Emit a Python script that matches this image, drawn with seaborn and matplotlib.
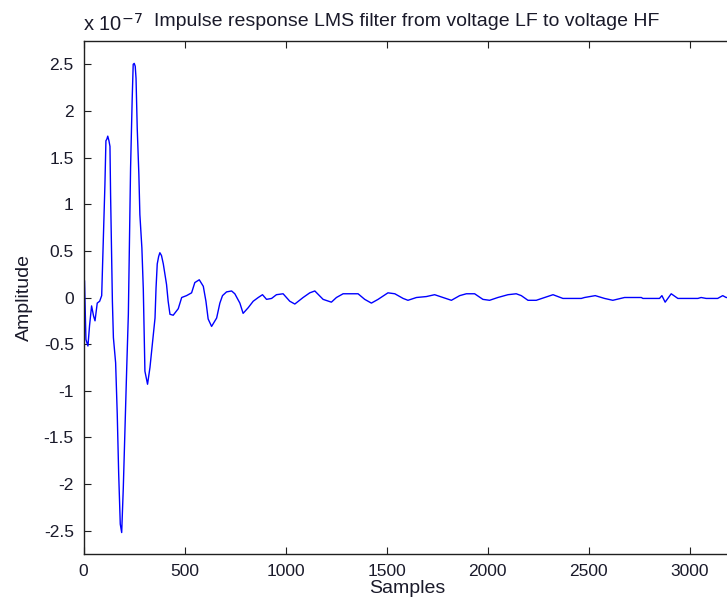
import numpy as np
import pandas as pd
import matplotlib
matplotlib.use("Agg")
import matplotlib.pyplot as plt
from matplotlib.ticker import FuncFormatter
import seaborn as sns

# Samples and amplitude (in units of 1e-7)
samples = [0, 5, 12, 22, 30, 40, 50, 57, 68, 80, 90, 98, 106, 111, 116, 120, 126, 131, 134, 139,
           143, 148, 159, 167, 174, 182, 189, 197, 205, 214, 222, 227, 233, 241, 246, 251, 256,
           260, 266, 274, 279, 289, 296, 304, 317, 329, 342, 354, 359, 365, 372, 378, 386, 395,
           411, 419, 428, 444, 469, 486, 510, 535, 551, 573, 593, 606, 617, 634, 659, 675, 688,
           708, 733, 749, 774, 790, 815, 840, 865, 886, 906, 931, 955, 988, 1021, 1046, 1087,
           1120, 1145, 1186, 1227, 1252, 1285, 1359, 1392, 1425, 1458, 1507, 1541, 1582, 1606,
           1648, 1697, 1738, 1780, 1821, 1862, 1895, 1936, 1977, 2010, 2051, 2101, 2142, 2167,
           2200, 2241, 2282, 2324, 2373, 2464, 2480, 2533, 2579, 2620, 2678, 2761, 2769, 2851,
           2863, 2879, 2909, 2942, 3041, 3057, 3082, 3139, 3164, 3181, 3200]
amplitude = [0.20, 0.18, -0.45, -0.52, -0.30, -0.09, -0.20, -0.25, -0.06, -0.04, 0.02, 0.63,
             1.21, 1.68, 1.70, 1.73, 1.68, 1.62, 1.11, 0.48,
             -0.04, -0.43, -0.70, -1.25, -1.88, -2.43, -2.52, -2.04, -1.43, -0.75, -0.18, 0.50,
             1.39, 2.13, 2.50, 2.51, 2.48, 2.35, 1.81, 1.32, 0.89, 0.53, 0.09, -0.79, -0.93,
             -0.75, -0.47, -0.22, 0.10, 0.36, 0.44, 0.48, 0.45, 0.36, 0.14, -0.04, -0.18, -0.19,
             -0.12, 0.00, 0.02, 0.05, 0.16, 0.19, 0.12, -0.04, -0.23, -0.31, -0.22, -0.06, 0.02,
             0.06, 0.07, 0.04, -0.06, -0.17, -0.11, -0.04, 0.00, 0.03, -0.02, -0.01, 0.03, 0.04,
             -0.04, -0.07, 0.00, 0.05, 0.07, -0.02, -0.05, 0.00, 0.04, 0.04, -0.02, -0.06, -0.02,
             0.05, 0.04, -0.01, -0.03, 0.00, 0.01, 0.03, 0.00, -0.03, 0.02, 0.04, 0.04, -0.02,
             -0.03, 0.00, 0.03, 0.04, 0.02, -0.03, -0.03, 0.00, 0.03, -0.01, -0.01, 0.00, 0.02,
             -0.01, -0.03, 0.00, 0.00, -0.01, -0.01, 0.02, -0.05, 0.04, -0.01, -0.01, 0.00, -0.01,
             -0.01, 0.02, 0.00, 0.00]
scale = 1e-7

x_ticks = [0, 500, 1000, 1500, 2000, 2500, 3000]
y_ticks = [-2.5, -2, -1.5, -1, -0.5, 0, 0.5, 1, 1.5, 2, 2.5]

title = "Impulse response LMS filter from voltage LF to voltage HF"

sns.set_theme(style="ticks")
plt.rcParams['font.family'] = ['Liberation Sans', 'DejaVu Sans']

df = pd.DataFrame({"Samples": samples, "Amplitude": np.array(amplitude) * scale})

fig = plt.figure(figsize=(7.27, 6.07), dpi=100)
ax = fig.add_axes([83.5 / 727, 53 / 607, (730 - 83.5) / 727, (554 - 41) / 607])

sns.lineplot(data=df, x="Samples", y="Amplitude", ax=ax, color=(0, 0, 1),
             linewidth=1.0, estimator=None, sort=False)

ax.set_xlim(0, 3200)
ax.set_ylim(-2.75 * scale, 2.75 * scale)
ax.set_xticks(x_ticks)
ax.set_yticks([t * scale for t in y_ticks])
ax.yaxis.set_major_formatter(FuncFormatter(lambda v, p: f"{v / scale:g}"))
ax.xaxis.set_major_formatter(FuncFormatter(lambda v, p: f"{v:g}"))

for s in ax.spines.values():
    s.set_color("#202020")
    s.set_linewidth(1.0)
ax.tick_params(direction="in", length=5, width=0.8, top=True, right=False,
               labelsize=12.5, colors="#202020", pad=7)
ax.tick_params(labelcolor="#1a1a2a")

ax.set_xlabel("Samples", fontsize=14, color="#1a1a2a", labelpad=1)
ax.set_ylabel("Amplitude", fontsize=14, color="#1a1a2a", labelpad=8)
ax.set_title(title, fontsize=14, color="#1a1a2a", pad=11)

fig.text(83 / 727, 1 - 24 / 607, r"x 10$^{-7}$", fontsize=14.5, color="#1a1a2a",
         ha="left", va="center")

fig.savefig("out.png", dpi=100)
